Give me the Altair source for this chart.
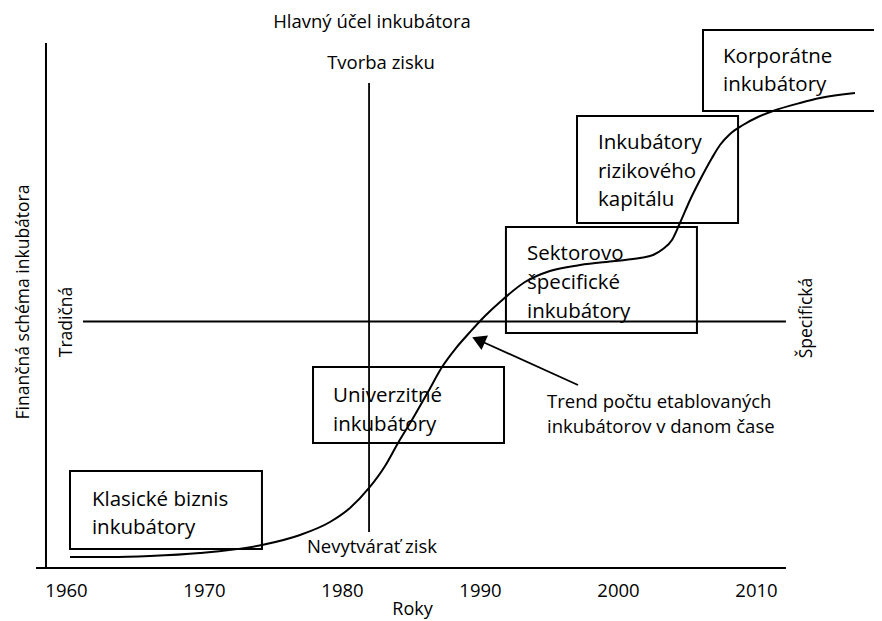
import altair as alt
import pandas as pd

FONT = "Open Sans"

# ---- trend curve: number of established incubators over time (index 0-100)
trend_years = [1960.29, 1963.19, 1966.09, 1969.71, 1974.20, 1976.96, 1979.13, 1980.58,
               1981.96, 1983.12, 1984.06, 1985.07, 1986.23, 1987.25, 1988.26, 1989.28,
               1990.36, 1991.45, 1993.26, 1995.07, 1997.25, 1999.78, 2001.59, 2002.54,
               2003.26, 2003.91, 2004.49, 2005.22, 2005.94, 2006.81, 2007.39, 2008.12,
               2009.06, 2010.14, 2011.23, 2013.19, 2014.64, 2017.17]
trend_index = [2.10, 2.10, 2.29, 2.86, 4.38, 6.29, 8.76, 11.43,
               15.24, 19.43, 23.81, 28.19, 33.52, 38.29, 41.90, 44.95,
               48.00, 50.67, 54.48, 56.57, 57.71, 58.48, 59.05, 59.62,
               60.76, 62.48, 65.71, 70.10, 73.90, 78.10, 80.57, 82.67,
               84.38, 85.90, 87.05, 88.57, 89.52, 90.48]

x_ticks = [1960, 1970, 1980, 1990, 2000, 2010]

# ---- incubator type boxes
box_names = ["Klasické", "Univerzitné", "Sektorovo", "Rizikový kapitál", "Korporátne"]
box_start = [1960.29, 1977.90, 1991.88, 1997.03, 2006.16]
box_end = [1974.20, 1991.74, 2005.72, 2008.70, 2018.84]
box_low = [3.62, 23.81, 44.76, 65.71, 87.05]
box_high = [18.48, 38.29, 64.95, 86.10, 102.48]

box_lines = ["Klasické biznis", "inkubátory",
             "Univerzitné", "inkubátory",
             "Sektorovo", "špecifické", "inkubátory",
             "Inkubátory", "rizikového", "kapitálu",
             "Korporátne", "inkubátory"]
box_line_x = [1961.88, 1961.88,
              1979.35, 1979.35,
              1993.41, 1993.41, 1993.41,
              1998.55, 1998.55, 1998.55,
              2007.61, 2007.61]
box_line_y = [12.95, 7.62,
              32.76, 27.24,
              59.81, 54.29, 48.76,
              80.95, 75.43, 70.10,
              97.33, 92.00]

# ---- frame lines (axes and the two dividing lines)
frame_names = ["os Y", "os X"]
frame_x1 = [1958.55, 1957.83]
frame_x2 = [1958.55, 2012.17]
frame_y1 = [0.0, 0.0]
frame_y2 = [100.0, 0.0]

divider_names = ["zisk", "schéma"]
divider_x1 = [1981.96, 1961.23]
divider_x2 = [1981.96, 2012.17]
divider_y1 = [6.86, 46.95]
divider_y2 = [92.38, 46.95]

# ---- annotation arrow
arrow_tail_x = [1997.10]
arrow_tail_y = [34.86]
arrow_head_x = [1989.89]
arrow_head_y = [43.43]

note_lines = ["Trend počtu etablovaných", "inkubátorov v danom čase"]
note_x = [1994.86, 1994.86]
note_y = [31.62, 26.86]

# ---- centred labels
center_labels = ["Hlavný účel inkubátora", "Tvorba zisku", "Nevytvárať zisk"]
center_x = [1982.17, 1982.83, 1982.17]
center_y = [104.0, 96.19, 4.0]

vertical_labels = ["Finančná schéma inkubátora", "Tradičná", "Špecifická"]
vertical_x = [1956.96, 1960.07, 2013.70]
vertical_y = [50.67, 46.86, 47.62]

# ------------------------------------------------------------------
x_scale = alt.Scale(domain=[1957.8986, 2012.2464], nice=False, zero=False)
y_scale = alt.Scale(domain=[0, 100], nice=False, zero=False)

X_AXIS = alt.Axis(values=x_ticks, format="d", grid=False, domain=False, ticks=False,
                  labelFont=FONT, labelFontSize=18.5, labelColor="black",
                  labelPadding=13, labelFlush=False,
                  title="Roky", titleFont=FONT, titleFontSize=18,
                  titleFontWeight="normal", titleColor="black", titlePadding=1)


def X(field):
    return alt.X(field, type="quantitative", scale=x_scale, axis=X_AXIS)


def Y(field):
    return alt.Y(field, type="quantitative", scale=y_scale, axis=None)


trend_df = pd.DataFrame({"rok": trend_years, "index": trend_index})
box_df = pd.DataFrame({"typ": box_names, "x1": box_start, "x2": box_end,
                       "y1": box_low, "y2": box_high})
box_text_df = pd.DataFrame({"text": box_lines, "x": box_line_x, "y": box_line_y})
frame_df = pd.DataFrame({"n": frame_names, "x1": frame_x1, "x2": frame_x2,
                         "y1": frame_y1, "y2": frame_y2})
divider_df = pd.DataFrame({"n": divider_names, "x1": divider_x1, "x2": divider_x2,
                           "y1": divider_y1, "y2": divider_y2})
arrow_df = pd.DataFrame({"x1": arrow_tail_x, "y1": arrow_tail_y,
                         "x2": arrow_head_x, "y2": arrow_head_y})
note_df = pd.DataFrame({"text": note_lines, "x": note_x, "y": note_y})
center_df = pd.DataFrame({"text": center_labels, "x": center_x, "y": center_y})
vertical_df = pd.DataFrame({"text": vertical_labels, "x": vertical_x, "y": vertical_y})

frame = alt.Chart(frame_df).mark_rule(color="black", strokeWidth=2).encode(
    x=X("x1"), x2="x2", y=Y("y1"), y2="y2")

dividers = alt.Chart(divider_df).mark_rule(color="black", strokeWidth=1.8).encode(
    x=X("x1"), x2="x2", y=Y("y1"), y2="y2")

boxes = alt.Chart(box_df).mark_rect(fillOpacity=0, stroke="black", strokeWidth=2).encode(
    x=X("x1"), x2="x2", y=Y("y1"), y2="y2")

trend = alt.Chart(trend_df).mark_line(color="black", strokeWidth=2,
                                      interpolate="monotone").encode(
    x=X("rok"), y=Y("index"))

arrow_shaft = alt.Chart(arrow_df).mark_rule(color="black", strokeWidth=1.8).encode(
    x=X("x1"), x2="x2", y=Y("y1"), y2="y2")

arrow_head = alt.Chart(arrow_df).mark_point(shape="triangle-up", filled=True, size=250,
                                            angle=294, color="black", opacity=1).encode(
    x=X("x2"), y=Y("y2"))

box_text = alt.Chart(box_text_df).mark_text(font=FONT, fontSize=20.5, align="left",
                                            baseline="middle", color="black").encode(
    x=X("x"), y=Y("y"), text="text")

note_text = alt.Chart(note_df).mark_text(font=FONT, fontSize=18.5, align="left",
                                         baseline="middle", color="black").encode(
    x=X("x"), y=Y("y"), text="text")

center_text = alt.Chart(center_df).mark_text(font=FONT, fontSize=18.5, align="center",
                                             baseline="middle", color="black").encode(
    x=X("x"), y=Y("y"), text="text")

vertical_text = alt.Chart(vertical_df).mark_text(font=FONT, fontSize=17.5, align="center",
                                                 baseline="middle", angle=270,
                                                 color="black").encode(
    x=X("x"), y=Y("y"), text="text")

chart = alt.layer(
    frame, dividers, boxes, trend, arrow_shaft, arrow_head,
    box_text, note_text, center_text, vertical_text
).properties(
    width=750, height=525,
    autosize=alt.AutoSizeParams(type="none"),
    padding={"left": 29, "top": 35, "right": 87, "bottom": 53},
    background="white",
).configure_view(stroke=None)

chart.save("out.html", embed_options={"renderer": "svg", "actions": False})
